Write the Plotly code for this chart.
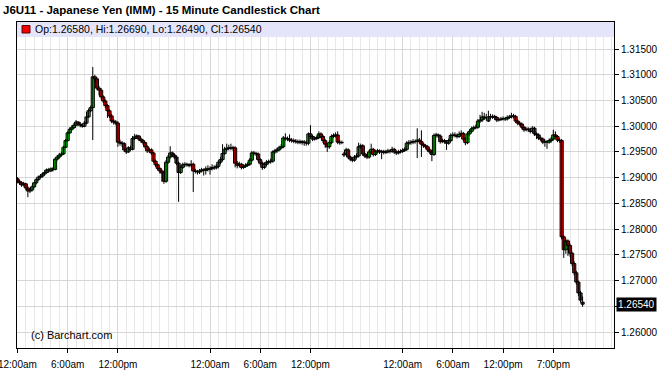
import plotly.graph_objects as go

# 15-minute bars (index of bar along the compressed session time axis)
opens = [
 1.2898,1.2893,1.2890,1.2886,1.2888,1.2880,1.2874,1.2876,1.2882,1.2890,
 1.2896,1.2901,1.2903,1.2907,1.2910,1.2915,1.2913,1.2917,1.2916,1.2936,
 1.2940,1.2944,1.2946,1.2959,1.2972,1.2987,1.2994,1.2997,1.3002,1.3008,
 1.3004,1.3002,1.3000,1.3006,1.3018,1.3030,1.3036,1.3096,1.3092,1.3074,
 1.3070,1.3057,1.3049,1.3040,1.3030,1.3020,1.3010,1.3008,1.3006,1.2969,
 1.2967,1.2966,1.2954,1.2950,1.2958,1.2955,1.2976,1.2979,1.2981,1.2975,
 1.2972,1.2968,1.2960,1.2952,1.2954,1.2948,1.2932,1.2925,1.2918,1.2913,
 1.2909,1.2893,1.2930,1.2940,1.2948,1.2944,1.2940,1.2928,1.2910,1.2920,
 1.2925,1.2926,1.2925,1.2924,1.2926,1.2913,1.2912,1.2911,1.2913,1.2915,
 1.2914,1.2917,1.2916,1.2918,1.2920,1.2919,1.2922,1.2930,1.2935,1.2947,
 1.2955,1.2957,1.2958,1.2957,1.2958,1.2928,1.2924,1.2926,1.2920,1.2922,
 1.2924,1.2926,1.2934,1.2948,1.2947,1.2946,1.2935,1.2928,1.2920,1.2926,
 1.2930,1.2931,1.2932,1.2950,1.2952,1.2954,1.2958,1.2960,1.2977,1.2976,
 1.2975,1.2973,1.2972,1.2971,1.2970,1.2969,1.2970,1.2968,1.2969,1.2967,
 1.2985,1.2980,1.2975,1.2976,1.2978,1.2985,1.2980,1.2972,1.2965,1.2960,
 1.2968,1.2980,1.2982,1.2983,1.2969,1.2968,1.2944,1.2946,1.2954,1.2940,
 1.2936,1.2934,1.2940,1.2942,1.2960,1.2962,1.2946,1.2942,1.2940,1.2950,
 1.2955,1.2945,1.2950,1.2952,1.2950,1.2951,1.2949,1.2950,1.2952,1.2951,
 1.2955,1.2950,1.2948,1.2950,1.2951,1.2953,1.2955,1.2967,1.2968,1.2969,
 1.2970,1.2970,1.2973,1.2970,1.2965,1.2962,1.2960,1.2954,1.2950,1.2945,
 1.2982,1.2983,1.2981,1.2970,1.2972,1.2970,1.2967,1.2972,1.2982,1.2983,
 1.2982,1.2980,1.2984,1.2986,1.2975,1.2968,1.2985,1.2990,1.2995,1.2997,
 1.2998,1.3010,1.3012,1.3018,1.3016,1.3010,1.3018,1.3018,1.3019,1.3017,
 1.3012,1.3013,1.3014,1.3015,1.3014,1.3017,1.3018,1.3020,1.3019,1.3010,
 1.3006,1.3004,1.2998,1.2993,1.2994,1.2994,1.2990,1.2996,1.2985,1.2983,
 1.2977,1.2975,1.2969,1.2970,1.2969,1.2972,1.2975,1.2983,1.2980,1.2973,
 1.2972,1.2785,1.2760,1.2777,1.2768,1.2753,1.2733,1.2715,1.2697,1.2676,
 1.2658]

highs = [
 1.2901,1.2896,1.2893,1.2892,1.2890,1.2883,1.2879,1.2885,1.2892,1.2899,
 1.2904,1.2907,1.2910,1.2915,1.2918,1.2919,1.2920,1.2921,1.2939,1.2944,
 1.2948,1.2950,1.2962,1.2975,1.2990,1.2998,1.3002,1.3006,1.3012,1.3010,
 1.3008,1.3005,1.3010,1.3028,1.3034,1.3040,1.3115,1.3100,1.3095,1.3078,
 1.3074,1.3060,1.3052,1.3043,1.3033,1.3024,1.3014,1.3012,1.3010,1.2974,
 1.2971,1.2969,1.2958,1.2961,1.2962,1.2981,1.2985,1.2984,1.2983,1.2978,
 1.2975,1.2970,1.2963,1.2958,1.2957,1.2950,1.2935,1.2928,1.2921,1.2916,
 1.2912,1.2934,1.2944,1.2961,1.2951,1.2947,1.2943,1.2931,1.2923,1.2929,
 1.2930,1.2929,1.2928,1.2934,1.2929,1.2917,1.2915,1.2917,1.2919,1.2918,
 1.2922,1.2924,1.2922,1.2926,1.2924,1.2926,1.2934,1.2940,1.2965,1.2960,
 1.2966,1.2964,1.2966,1.2962,1.2961,1.2932,1.2931,1.2929,1.2926,1.2928,
 1.2930,1.2938,1.2952,1.2952,1.2950,1.2949,1.2938,1.2931,1.2930,1.2934,
 1.2935,1.2937,1.2953,1.2956,1.2958,1.2962,1.2965,1.2981,1.2986,1.2980,
 1.2984,1.2977,1.2976,1.2975,1.2974,1.2974,1.2973,1.2973,1.2972,1.2988,
 1.3002,1.2983,1.2980,1.2982,1.2990,1.2988,1.2983,1.2975,1.2968,1.2972,
 1.2984,1.2986,1.2988,1.2990,1.2973,1.2972,1.2950,1.2958,1.2957,1.2943,
 1.2940,1.2944,1.2947,1.2968,1.2966,1.2965,1.2949,1.2946,1.2954,1.2966,
 1.2958,1.2954,1.2956,1.2955,1.2954,1.2954,1.2954,1.2956,1.2955,1.2960,
 1.2958,1.2953,1.2954,1.2955,1.2957,1.2959,1.2971,1.2973,1.2973,1.2975,
 1.2974,1.2996,1.2977,1.2992,1.2968,1.2965,1.2963,1.2957,1.2953,1.2986,
 1.2987,1.2986,1.2984,1.2976,1.2975,1.2973,1.2976,1.2986,1.2988,1.2988,
 1.2986,1.2990,1.2992,1.2989,1.2978,1.2989,1.2994,1.2999,1.3001,1.3003,
 1.3014,1.3022,1.3028,1.3026,1.3024,1.3030,1.3024,1.3023,1.3022,1.3020,
 1.3017,1.3018,1.3019,1.3018,1.3021,1.3022,1.3026,1.3024,1.3022,1.3013,
 1.3009,1.3007,1.3001,1.2998,1.2998,1.2997,1.3000,1.2999,1.2988,1.2986,
 1.2980,1.2978,1.2974,1.2973,1.2976,1.2979,1.2993,1.2990,1.2983,1.2977,
 1.2975,1.2788,1.2782,1.2780,1.2772,1.2756,1.2737,1.2719,1.2700,1.2680,
 1.2669]

lows = [
 1.2889,1.2886,1.2882,1.2883,1.2876,1.2862,1.2870,1.2873,1.2880,1.2887,
 1.2894,1.2898,1.2900,1.2904,1.2908,1.2910,1.2911,1.2912,1.2914,1.2933,
 1.2937,1.2941,1.2944,1.2957,1.2970,1.2985,1.2991,1.2995,1.3000,1.3000,
 1.2998,1.2997,1.2998,1.3004,1.3016,1.3027,1.2973,1.3085,1.3070,1.3060,
 1.3052,1.3045,1.3035,1.3016,1.3016,1.3006,1.3003,1.3002,1.2960,1.2962,
 1.2960,1.2950,1.2946,1.2948,1.2952,1.2953,1.2973,1.2975,1.2971,1.2968,
 1.2964,1.2956,1.2948,1.2948,1.2944,1.2929,1.2921,1.2914,1.2908,1.2892,
 1.2888,1.2890,1.2927,1.2937,1.2940,1.2936,1.2924,1.2853,1.2907,1.2917,
 1.2921,1.2921,1.2920,1.2920,1.2872,1.2908,1.2906,1.2907,1.2910,1.2904,
 1.2906,1.2912,1.2906,1.2914,1.2915,1.2916,1.2918,1.2926,1.2932,1.2944,
 1.2951,1.2953,1.2953,1.2952,1.2920,1.2918,1.2920,1.2916,1.2917,1.2919,
 1.2921,1.2923,1.2931,1.2943,1.2942,1.2931,1.2924,1.2915,1.2917,1.2922,
 1.2926,1.2927,1.2929,1.2946,1.2948,1.2951,1.2955,1.2957,1.2972,1.2971,
 1.2969,1.2968,1.2967,1.2966,1.2965,1.2965,1.2964,1.2962,1.2962,1.2963,
 1.2976,1.2971,1.2972,1.2973,1.2975,1.2976,1.2967,1.2958,1.2950,1.2956,
 1.2965,1.2977,1.2978,1.2965,1.2964,1.2965,1.2940,1.2943,1.2936,1.2932,
 1.2930,1.2931,1.2937,1.2939,1.2956,1.2942,1.2938,1.2936,1.2937,1.2946,
 1.2941,1.2942,1.2947,1.2946,1.2936,1.2945,1.2946,1.2947,1.2947,1.2948,
 1.2946,1.2944,1.2945,1.2947,1.2948,1.2950,1.2952,1.2963,1.2964,1.2965,
 1.2966,1.2938,1.2966,1.2940,1.2958,1.2956,1.2950,1.2946,1.2932,1.2942,
 1.2978,1.2977,1.2966,1.2967,1.2966,1.2954,1.2964,1.2969,1.2978,1.2978,
 1.2976,1.2977,1.2981,1.2971,1.2963,1.2965,1.2982,1.2987,1.2992,1.2994,
 1.2995,1.3006,1.3008,1.3012,1.3011,1.3008,1.3013,1.3014,1.3012,1.3008,
 1.3009,1.3010,1.3011,1.3010,1.3011,1.3014,1.3015,1.3015,1.3006,1.3002,
 1.3000,1.2994,1.2989,1.2990,1.2989,1.2986,1.2987,1.2981,1.2975,1.2973,
 1.2971,1.2965,1.2960,1.2956,1.2966,1.2968,1.2972,1.2976,1.2969,1.2968,
 1.2780,1.2744,1.2752,1.2748,1.2746,1.2728,1.2710,1.2692,1.2670,1.2657,
 1.2649]

closes = [
 1.2893,1.2890,1.2886,1.2888,1.2880,1.2874,1.2876,1.2882,1.2890,1.2896,
 1.2901,1.2903,1.2907,1.2910,1.2915,1.2913,1.2917,1.2916,1.2936,1.2940,
 1.2944,1.2946,1.2959,1.2972,1.2987,1.2994,1.2997,1.3002,1.3008,1.3004,
 1.3002,1.3000,1.3006,1.3018,1.3030,1.3036,1.3096,1.3092,1.3074,1.3070,
 1.3057,1.3049,1.3040,1.3030,1.3020,1.3010,1.3008,1.3006,1.2969,1.2967,
 1.2966,1.2954,1.2950,1.2958,1.2955,1.2976,1.2979,1.2981,1.2975,1.2972,
 1.2968,1.2960,1.2952,1.2954,1.2948,1.2932,1.2925,1.2918,1.2913,1.2909,
 1.2893,1.2930,1.2940,1.2948,1.2944,1.2940,1.2928,1.2910,1.2920,1.2925,
 1.2926,1.2925,1.2924,1.2926,1.2913,1.2912,1.2911,1.2913,1.2915,1.2914,
 1.2917,1.2916,1.2918,1.2920,1.2919,1.2922,1.2930,1.2935,1.2947,1.2955,
 1.2957,1.2958,1.2957,1.2958,1.2928,1.2924,1.2926,1.2920,1.2922,1.2924,
 1.2926,1.2934,1.2948,1.2947,1.2946,1.2935,1.2928,1.2920,1.2926,1.2930,
 1.2931,1.2932,1.2950,1.2952,1.2954,1.2958,1.2960,1.2977,1.2976,1.2975,
 1.2973,1.2972,1.2971,1.2970,1.2969,1.2970,1.2968,1.2969,1.2967,1.2985,
 1.2980,1.2975,1.2976,1.2978,1.2985,1.2980,1.2972,1.2965,1.2960,1.2968,
 1.2980,1.2982,1.2983,1.2969,1.2968,1.2968,1.2946,1.2954,1.2940,1.2936,
 1.2934,1.2940,1.2942,1.2960,1.2962,1.2946,1.2942,1.2940,1.2950,1.2955,
 1.2945,1.2950,1.2952,1.2950,1.2951,1.2949,1.2950,1.2952,1.2951,1.2955,
 1.2950,1.2948,1.2950,1.2951,1.2953,1.2955,1.2967,1.2968,1.2969,1.2970,
 1.2970,1.2973,1.2970,1.2965,1.2962,1.2960,1.2954,1.2950,1.2945,1.2982,
 1.2983,1.2981,1.2970,1.2972,1.2970,1.2967,1.2972,1.2982,1.2983,1.2982,
 1.2980,1.2984,1.2986,1.2975,1.2968,1.2985,1.2990,1.2995,1.2997,1.2998,
 1.3010,1.3012,1.3018,1.3016,1.3017,1.3018,1.3018,1.3019,1.3017,1.3012,
 1.3013,1.3014,1.3015,1.3014,1.3017,1.3018,1.3020,1.3019,1.3010,1.3006,
 1.3004,1.2998,1.2993,1.2994,1.2994,1.2990,1.2996,1.2985,1.2983,1.2977,
 1.2975,1.2969,1.2970,1.2969,1.2972,1.2975,1.2983,1.2980,1.2973,1.2972,
 1.2785,1.2760,1.2777,1.2768,1.2753,1.2733,1.2715,1.2697,1.2676,1.2662,
 1.2654]

bar_index = list(range(len(closes)))

# time-axis labels (positions in bar units) and price ticks
x_tick_pos = [0, 24, 48, 92, 116, 140, 184, 208, 232, 256]
x_tick_text = ["12:00am", "6:00am", "12:00pm", "12:00am", "6:00am", "12:00pm",
               "12:00am", "6:00am", "12:00pm", "7:00pm"]
y_ticks = [1.260, 1.265, 1.270, 1.275, 1.280, 1.285, 1.290, 1.295,
           1.300, 1.305, 1.310, 1.315]
last_price = 1.26540
title_text = "J6U11 - Japanese Yen (IMM) - 15 Minute Candlestick Chart"
legend_text = "Op:1.26580, Hi:1.26690, Lo:1.26490, Cl:1.26540"

FONT = "Liberation Sans, Arial, sans-serif"
UP, DOWN = "#00E000", "#FF0000"

# candle bodies and wicks built from the OHLC lists
body_base = [min(o, c) for o, c in zip(opens, closes)]
body_len = [max(abs(c - o), 0.00004) for o, c in zip(opens, closes)]
body_col = [UP if c > o else (DOWN if c < o else "black") for o, c in zip(opens, closes)]
wick_x, wick_y = [], []
for i, h, l in zip(bar_index, highs, lows):
    wick_x += [i, i, None]
    wick_y += [l, h, None]

fig = go.Figure()
fig.add_trace(go.Scatter(x=wick_x, y=wick_y, mode="lines",
                         line=dict(color="black", width=1),
                         hoverinfo="skip", showlegend=False))
fig.add_trace(go.Bar(x=bar_index, y=body_len, base=body_base, width=1.5,
                     marker=dict(color=body_col, line=dict(color="black", width=1)),
                     hoverinfo="skip", showlegend=False))

y_text = [f"{v:.5f}" if abs(v - 1.265) > 1e-9 else "" for v in y_ticks]

fig.update_layout(
    width=667, height=371,
    margin=dict(l=17, r=53, t=22, b=23, autoexpand=False),
    paper_bgcolor="white", plot_bgcolor="white",
    font=dict(family=FONT, size=10, color="black"),
    title=dict(text="<b>" + title_text + "</b>", x=3/667, xanchor="left",
               y=1 - 10/371, yanchor="middle",
               font=dict(family=FONT, size=11.5, color="black")),
    showlegend=False,
    xaxis=dict(
        range=[-0.2, 285], automargin=False,
        tickmode="array", tickvals=x_tick_pos, ticktext=x_tick_text,
        ticks="outside", ticklen=4, tickcolor="black",
        ticklabeloverflow="allow", ticklabelstandoff=3,
        showgrid=True, gridcolor="#D6D6D6", gridwidth=1,
        minor=dict(tickmode="linear", tick0=0, dtick=4, showgrid=True,
                   gridcolor="#E8E8E8", gridwidth=1, ticks=""),
        showline=True, linecolor="black", linewidth=1, mirror=True,
        zeroline=False, tickfont=dict(size=10),
    ),
    yaxis=dict(
        range=[1.25689, 1.32025], side="right", automargin=False,
        tickmode="array", tickvals=y_ticks, ticktext=y_text,
        ticks="outside", ticklen=4, tickcolor="black",
        showgrid=True, gridcolor="#D6D6D6", gridwidth=1,
        showline=True, linecolor="black", linewidth=1, mirror=True,
        zeroline=False, tickfont=dict(size=10),
    ),
    shapes=[
        dict(type="rect", xref="paper", yref="paper", x0=0, x1=1,
             y0=1 - 15/326, y1=1, fillcolor="#E4E4FA", line=dict(width=0),
             layer="above"),
        dict(type="rect", xref="paper", yref="paper",
             x0=5/597, x1=13/597, y0=1 - 11/326, y1=1 - 3.5/326,
             fillcolor="#EE0000", line=dict(color="#600000", width=1),
             layer="above"),
    ],
    annotations=[
        dict(text=legend_text, xref="paper", yref="paper", x=16/597, y=1 - 7.5/326,
             xanchor="left", yanchor="middle", showarrow=False,
             font=dict(family=FONT, size=10.5, color="black")),
        dict(text="(c) Barchart.com", xref="paper", yref="paper", x=12/597,
             y=13/326, xanchor="left", yanchor="middle", showarrow=False,
             font=dict(family=FONT, size=11, color="black")),
        dict(text=f"{last_price:.5f}", xref="paper", yref="y", x=1, y=last_price,
             xanchor="left", yanchor="middle", xshift=2, showarrow=False,
             bgcolor="black", borderpad=1,
             font=dict(family=FONT, size=10, color="white")),
    ],
)

fig.write_html("out.html")
